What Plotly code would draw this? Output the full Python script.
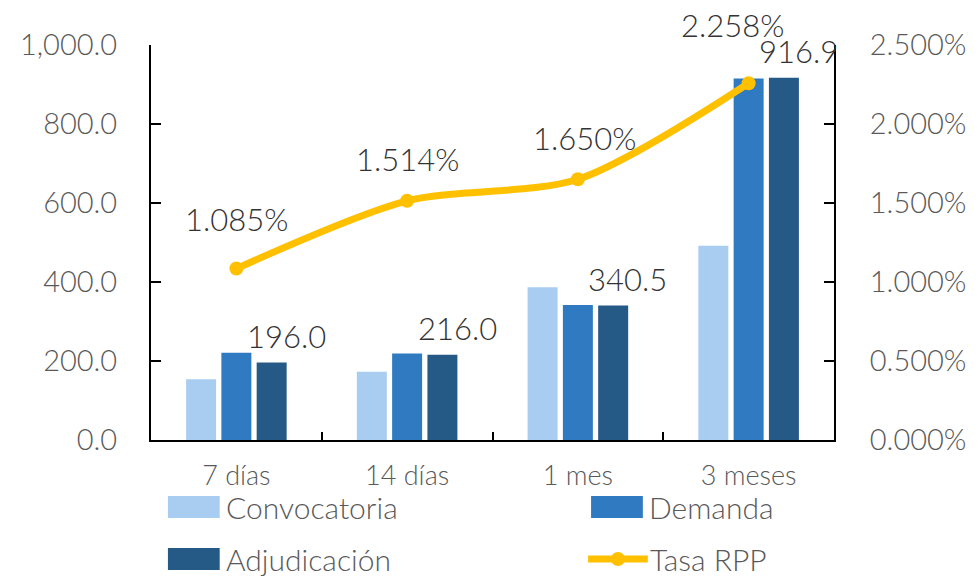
import plotly.graph_objects as go

categorias = ["7 días", "14 días", "1 mes", "3 meses"]
convocatoria = [154.0, 173.0, 387.0, 492.0]
demanda = [221.0, 219.0, 342.0, 915.0]
adjudicacion = [196.0, 216.0, 340.5, 916.9]
tasa_rpp = [0.01085, 0.01514, 0.01650, 0.02258]

_COLORS = {
    "convocatoria": "#A9CDF0",
    "demanda": "#2F7AC0",
    "adjudicacion": "#255A87",
    "tasa": "#FFC000",
}
FONT = "Lato, 'Noto Sans', sans-serif"
TICK_COLOR = "#595959"
LABEL_COLOR = "#333333"

# la página tiene 8 px de margen en el body: se compensa aquí
OFF = 8
W, H = 978 - OFF, 577 - OFF
# área de trazado en píxeles de la ventana
L, R, T, B = 151, 837, 45, 440


def px(x):
    return (x - L) / (R - L)


def py(y):
    return (B - y) / (B - T)


fig = go.Figure()
for key, name, vals in [
    ("convocatoria", "Convocatoria", convocatoria),
    ("demanda", "Demanda", demanda),
    ("adjudicacion", "Adjudicación", adjudicacion),
]:
    fig.add_trace(
        go.Bar(
            name=name,
            x=categorias,
            y=vals,
            marker=dict(color=_COLORS[key], line=dict(width=0)),
            showlegend=False,
        )
    )

fig.add_trace(
    go.Scatter(
        name="Tasa RPP",
        x=categorias,
        y=tasa_rpp,
        yaxis="y2",
        mode="lines+markers",
        line=dict(color=_COLORS["tasa"], width=7, shape="spline", smoothing=0.8),
        marker=dict(size=14, color=_COLORS["tasa"]),
        cliponaxis=False,
        showlegend=False,
    )
)

annotations = []
# etiquetas de adjudicación (arriba de la barra, algo a la derecha)
for cat, v in zip(categorias, adjudicacion):
    annotations.append(
        dict(
            x=cat, y=v, xref="x", yref="y",
            text=f"{v:,.1f}", showarrow=False,
            xshift=50, yshift=27, yanchor="middle",
            font=dict(family=FONT, size=31, color=LABEL_COLOR, weight=300),
        )
    )

# etiquetas de la tasa
tasa_dx = [0, 0, 7, -16]
tasa_dy = [50, 42, 41, 58]
for cat, v, dx, dy in zip(categorias, tasa_rpp, tasa_dx, tasa_dy):
    annotations.append(
        dict(
            x=cat, y=v, xref="x", yref="y2",
            text=f"{v:.3%}", showarrow=False,
            xshift=dx, yshift=dy, yanchor="middle",
            font=dict(family=FONT, size=31, color=LABEL_COLOR, weight=300),
        )
    )

# leyenda manual (2 columnas)
shapes = []
legend_items = [
    ("Convocatoria", "convocatoria", 168, 507, "bar"),
    ("Demanda", "demanda", 593, 507, "bar"),
    ("Adjudicación", "adjudicacion", 168, 559, "bar"),
    ("Tasa RPP", "tasa", 590, 559, "line"),
]
for label, key, x0, yc, kind in legend_items:
    if kind == "bar":
        shapes.append(
            dict(
                type="rect", xref="paper", yref="paper",
                x0=px(x0), x1=px(x0 + 52), y0=py(yc - 11), y1=py(yc + 11),
                fillcolor=_COLORS[key], line=dict(width=0),
            )
        )
    else:
        shapes.append(
            dict(
                type="line", xref="paper", yref="paper",
                x0=px(x0), x1=px(x0 + 60), y0=py(yc), y1=py(yc),
                line=dict(color=_COLORS[key], width=7),
            )
        )
        shapes.append(
            dict(
                type="circle", xref="paper", yref="paper",
                x0=px(x0 + 23), x1=px(x0 + 37), y0=py(yc - 7), y1=py(yc + 7),
                fillcolor=_COLORS[key], line=dict(width=0),
            )
        )
    annotations.append(
        dict(
            x=px(x0 + 56 if kind == "bar" else x0 + 60), y=py(yc),
            xref="paper", yref="paper", xanchor="left", yanchor="middle",
            text=label, showarrow=False,
            font=dict(family=FONT, size=30, color=TICK_COLOR, weight=300),
        )
    )

tick_font = dict(family=FONT, size=29, color=TICK_COLOR, weight=300)

fig.update_layout(
    width=W,
    height=H,
    barmode="group",
    bargap=0.38,
    bargroupgap=0.15,
    plot_bgcolor="white",
    paper_bgcolor="white",
    margin=dict(l=L - OFF, r=W + OFF - R, t=T - OFF, b=H + OFF - B, pad=0),
    showlegend=False,
    annotations=annotations,
    shapes=shapes,
    xaxis=dict(
        type="category",
        range=[-0.5, 3.5],
        showline=True, linecolor="black", linewidth=2,
        ticks="inside", tickson="boundaries", ticklen=8, tickcolor="black", tickwidth=2,
        showgrid=False,
        tickfont=dict(family=FONT, size=27, color=TICK_COLOR, weight=300),
        ticklabelstandoff=11,
    ),
    yaxis=dict(
        range=[0, 1000], dtick=200, tickformat=",.1f",
        showline=True, linecolor="black", linewidth=2,
        ticks="inside", ticklen=10, tickcolor="black", tickwidth=2,
        showgrid=False, zeroline=False,
        tickfont=tick_font,
        ticklabelstandoff=26,
    ),
    yaxis2=dict(
        overlaying="y", side="right",
        range=[0, 0.025], dtick=0.005, tickformat=".3%",
        showline=True, linecolor="black", linewidth=2,
        ticks="inside", ticklen=10, tickcolor="black", tickwidth=2,
        showgrid=False, zeroline=False,
        tickfont=tick_font,
        ticklabelstandoff=28,
    ),
)

fig.write_html("out.html")
